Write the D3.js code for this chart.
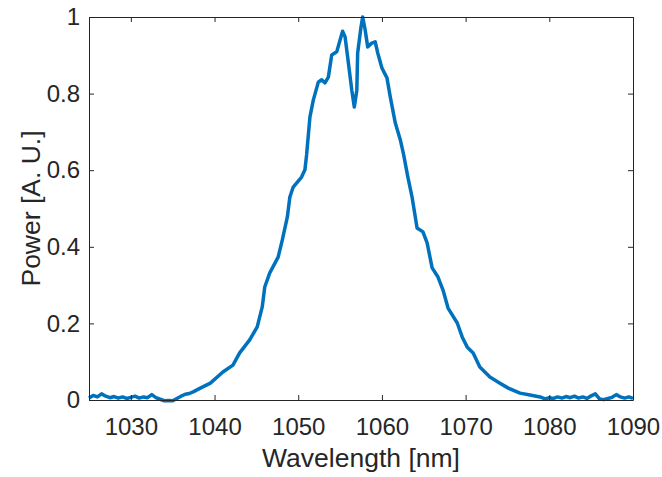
<!DOCTYPE html>
<html>
<head>
<meta charset="utf-8">
<script src="https://cdn.jsdelivr.net/npm/d3@7"></script>
<style>
    body { margin: 0; background: #fff; }
    .tick text { font-family: "Liberation Sans", Arial, sans-serif; font-size: 24px; fill: #262626; }
    .axisText { font-family: "Liberation Sans", Arial, sans-serif; font-size: 26.5px; fill: #262626; }
</style>
</head>
<body>
<div id="chart"></div>
<script>
var svgWidth = 662;
var svgHeight = 477;
var margin = {
    top: 17,
    right: 29,
    bottom: 77,
    left: 89,
};
var height = svgHeight - margin.top - margin.bottom;
var width = svgWidth - margin.left - margin.right;

// Spectrum
var wavelength = [
    1025.0, 1025.5, 1026.0, 1026.5, 1027.0, 1027.5, 1028.0, 1028.5, 1029.0, 1029.5,
    1030.0, 1030.5, 1031.0, 1031.5, 1032.0, 1032.5, 1033.0, 1033.5, 1034.0, 1034.5,
    1035.0, 1035.5, 1036.0, 1036.5, 1037.0, 1037.5, 1038.3, 1039.5, 1041.0, 1042.2,
    1043.0, 1044.2, 1045.1, 1045.7, 1046.0, 1046.6, 1047.6, 1048.1, 1048.7, 1049.0,
    1049.4, 1050.4, 1050.8, 1051.0, 1051.4, 1051.8, 1052.4, 1052.8, 1053.2, 1053.6,
    1054.0, 1054.6, 1055.0, 1055.3, 1055.6, 1055.9, 1056.4, 1056.7, 1057.0, 1057.1,
    1057.5, 1057.7, 1058.0, 1058.3, 1058.8, 1059.2, 1059.5, 1060.0, 1060.6, 1061.0,
    1061.6, 1062.2, 1062.6, 1063.1, 1063.6, 1064.2, 1064.9, 1065.4, 1066.0, 1066.7,
    1067.3, 1067.9, 1069.0, 1069.6, 1070.2, 1070.9, 1071.7, 1072.9, 1074.1, 1075.1,
    1076.5, 1077.7, 1078.9, 1079.5, 1080.0, 1080.5, 1081.0, 1081.5, 1082.0, 1082.5,
    1083.0, 1083.5, 1084.0, 1084.5, 1085.0, 1085.5, 1086.0, 1086.5, 1087.0, 1087.5,
    1088.0, 1088.5, 1089.0, 1089.5, 1090.0
];
var power = [
    0.005, 0.012, 0.008, 0.016, 0.010, 0.006, 0.009, 0.005, 0.008, 0.004,
    0.007, 0.010, 0.005, 0.008, 0.006, 0.014, 0.006, 0.002, -0.002, -0.001,
    -0.002, 0.004, 0.010, 0.015, 0.017, 0.022, 0.031, 0.044, 0.073, 0.091,
    0.123, 0.157, 0.191, 0.243, 0.295, 0.332, 0.373, 0.418, 0.478, 0.530,
    0.556, 0.582, 0.601, 0.640, 0.739, 0.783, 0.830, 0.836, 0.828, 0.843,
    0.901, 0.909, 0.940, 0.963, 0.948, 0.896, 0.809, 0.765, 0.809, 0.906,
    0.974, 1.000, 0.966, 0.922, 0.932, 0.935, 0.906, 0.867, 0.841, 0.791,
    0.723, 0.679, 0.640, 0.582, 0.530, 0.449, 0.439, 0.410, 0.345, 0.321,
    0.287, 0.240, 0.201, 0.164, 0.138, 0.123, 0.086, 0.060, 0.044, 0.031,
    0.018, 0.013, 0.008, 0.003, 0.006, 0.004, 0.008, 0.005, 0.009, 0.006,
    0.010, 0.005, 0.008, 0.004, 0.011, 0.016, 0.003, 0.001, 0.004, 0.007,
    0.014, 0.008, 0.005, 0.008, 0.004
];
var xTicks = [1030, 1040, 1050, 1060, 1070, 1080, 1090];
var yTicks = [0, 0.2, 0.4, 0.6, 0.8, 1];

var spectrum = wavelength.map(function (w, i) {
    return { x: w, y: power[i] };
});

// Create an SVG wrapper
var svg = d3.select("#chart")
    .append("svg")
    .attr("width", svgWidth)
    .attr("height", svgHeight);

var chartGroup = svg.append("g")
    .attr("transform", `translate(${margin.left}, ${margin.top})`);

// Create scale functions
var xLinearScale = d3.scaleLinear()
    .domain([1025, 1090])
    .range([0, width]);

var yLinearScale = d3.scaleLinear()
    .domain([0, 1])
    .range([height, 0]);

// Axes, MATLAB style: ticks inward, box on
var bottomAxis = d3.axisBottom(xLinearScale).tickValues(xTicks).tickSize(-5).tickPadding(18).tickSizeOuter(0)
    .tickFormat(d3.format("d"));
var leftAxis = d3.axisLeft(yLinearScale).tickValues(yTicks).tickSize(-5).tickPadding(9).tickSizeOuter(0)
    .tickFormat(d3.format("~g"));
var topAxis = d3.axisTop(xLinearScale).tickValues(xTicks).tickSize(-5).tickFormat("").tickSizeOuter(0);
var rightAxis = d3.axisRight(yLinearScale).tickValues(yTicks).tickSize(-5).tickFormat("").tickSizeOuter(0);

// Line
var line = d3.line()
    .x(d => xLinearScale(d.x))
    .y(d => yLinearScale(d.y));

chartGroup.append("path")
    .datum(spectrum)
    .attr("d", line)
    .attr("fill", "none")
    .attr("stroke", "#0072BD")
    .attr("stroke-width", 3.5)
    .attr("stroke-linejoin", "round");

chartGroup.append("g")
    .attr("transform", `translate(0, ${height})`)
    .call(bottomAxis);

chartGroup.append("g")
    .call(leftAxis);

chartGroup.append("g")
    .call(topAxis);

chartGroup.append("g")
    .attr("transform", `translate(${width}, 0)`)
    .call(rightAxis);

chartGroup.selectAll(".domain, .tick line")
    .attr("stroke", "#262626")
    .attr("stroke-width", 1);

// Create axes labels
chartGroup.append("text")
    .attr("transform", `translate(${-margin.left + 40}, ${height / 2}) rotate(-90)`)
    .attr("class", "axisText")
    .style("text-anchor", "middle")
    .text("Power [A. U.]");

chartGroup.append("text")
    .attr("transform", `translate(${width / 2}, ${height + 67})`)
    .attr("class", "axisText")
    .style("text-anchor", "middle")
    .text("Wavelength [nm]");
</script>
</body>
</html>
